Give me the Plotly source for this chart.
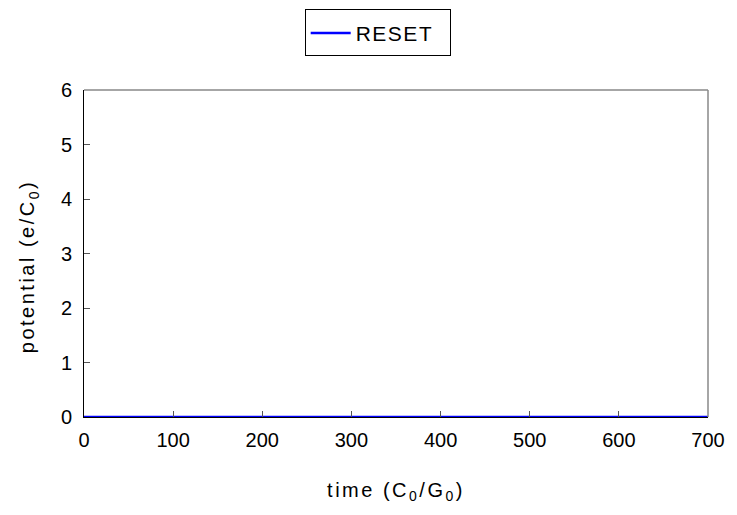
import plotly.graph_objects as go

# RESET potential trace over time
time_vals = [0, 100, 200, 300, 400, 500, 600, 700]
reset_potential = [0, 0, 0, 0, 0, 0, 0, 0]

x_ticks = [0, 100, 200, 300, 400, 500, 600, 700]
y_ticks = [0, 1, 2, 3, 4, 5, 6]

fig = go.Figure()
fig.add_trace(go.Scatter(
    x=time_vals, y=reset_potential, mode="lines", name="RESET",
    line=dict(color="#0000ff", width=2.5),
))

tick_font = dict(family="Liberation Sans, Arial", size=20, color="#000000")
title_font = dict(family="Liberation Sans, Arial", size=20, color="#000000")

fig.update_layout(
    width=737, height=515,
    margin=dict(l=84, r=14, t=82, b=98),
    paper_bgcolor="white", plot_bgcolor="white",
    showlegend=True,
    legend=dict(
        x=(310 - 84) / 639, xanchor="left", y=(417 - 2) / 335, yanchor="top",
        bordercolor="#000000", borderwidth=1, itemwidth=40,
        font=dict(family="Liberation Sans, Arial", size=21, color="#000000"),
        bgcolor="white",
    ),
    xaxis=dict(
        range=[0, 700], tickvals=x_ticks, ticks="inside", ticklen=6,
        tickcolor="#555555", showgrid=False, zeroline=False,
        showline=True, linecolor="#000000", linewidth=1,
        tickfont=tick_font, ticklabelstandoff=5, ticklabeloverflow="allow",
        title=dict(text="time (C<sub>0</sub>/G<sub>0</sub>)", font=title_font, standoff=32),
    ),
    yaxis=dict(
        range=[0, 6], tickvals=y_ticks, ticks="inside", ticklen=6,
        tickcolor="#555555", showgrid=False, zeroline=False,
        showline=True, linecolor="#000000", linewidth=1,
        tickfont=tick_font, ticklabelstandoff=7, ticklabeloverflow="allow",
        title=dict(text="potential (e/C<sub>0</sub>)", font=title_font, standoff=20),
    ),
    shapes=[
        dict(type="line", xref="paper", yref="paper", x0=0, x1=1, y0=1, y1=1,
             line=dict(color="#888888", width=1.5)),
        dict(type="line", xref="paper", yref="paper", x0=1, x1=1, y0=0, y1=1,
             line=dict(color="#888888", width=1.5)),
    ],
)

# Spaced-out lettering for titles and legend; fixed legend box size
post_js = """
var gd = document.getElementById('{plot_id}');
function styleText() {
  gd.querySelectorAll('.g-xtitle text, .g-ytitle text').forEach(function (t) {
    t.style.letterSpacing = '2.5px';
  });
  gd.querySelectorAll('.legendtext').forEach(function (t) {
    t.style.letterSpacing = '1.5px';
  });
  var yt = gd.querySelector('.g-ytitle');
  if (yt) { yt.setAttribute('transform', 'translate(0,13)'); }
  var bg = gd.querySelector('.legend rect.bg');
  if (bg) {
    var h = parseFloat(bg.getAttribute('height'));
    bg.setAttribute('width', 145);
    bg.setAttribute('y', -(46 - h) / 2);
    bg.setAttribute('height', 46);
  }
}
styleText();
gd.on('plotly_afterplot', styleText);
"""

fig.write_html("out.html", post_script=post_js)
